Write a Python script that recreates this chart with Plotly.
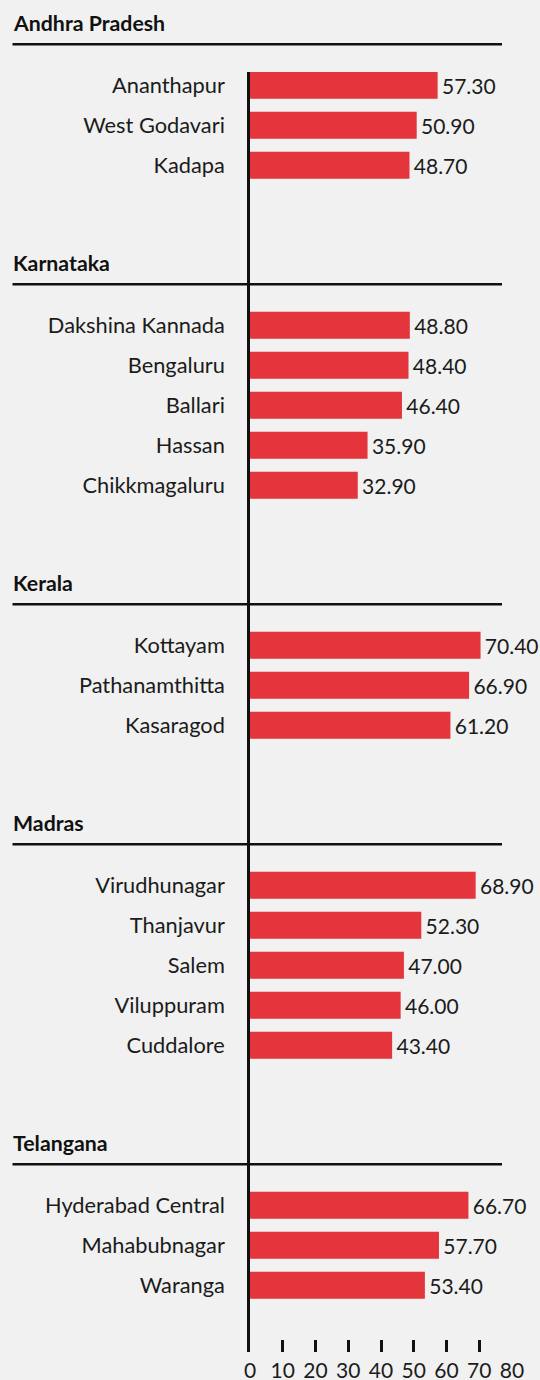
import plotly.graph_objects as go

# ---- data ----
groups = ["Andhra Pradesh", "Karnataka", "Kerala", "Madras", "Telangana"]
ap_names = ["Ananthapur", "West Godavari", "Kadapa"]
ap_vals = [57.30, 50.90, 48.70]
ka_names = ["Dakshina Kannada", "Bengaluru", "Ballari", "Hassan", "Chikkmagaluru"]
ka_vals = [48.80, 48.40, 46.40, 35.90, 32.90]
kl_names = ["Kottayam", "Pathanamthitta", "Kasaragod"]
kl_vals = [70.40, 66.90, 61.20]
md_names = ["Virudhunagar", "Thanjavur", "Salem", "Viluppuram", "Cuddalore"]
md_vals = [68.90, 52.30, 47.00, 46.00, 43.40]
tg_names = ["Hyderabad Central", "Mahabubnagar", "Waranga"]
tg_vals = [66.70, 57.70, 53.40]
x_ticks = [0, 10, 20, 30, 40, 50, 60, 70, 80]

group_names = [ap_names, ka_names, kl_names, md_names, tg_names]
group_vals = [ap_vals, ka_vals, kl_vals, md_vals, tg_vals]

# ---- layout constants ----
W, H = 540, 1380
M_L, M_R, M_T, M_B = 250, 28, 72, 28
GAP_SLOTS = 4
Y_MIN, Y_MAX = -1 / 3, 31 + 2 / 3
FONT = "Lato, 'Open Sans', sans-serif"
BG = "#f0f1f0"
RED = "#e3353b"
INK = "#1b1b1b"

pos, names, vals, group_start = [], [], [], []
s = 0
for nm, vl in zip(group_names, group_vals):
    group_start.append(s)
    for n, v in zip(nm, vl):
        pos.append(s)
        names.append(n)
        vals.append(v)
        s += 1
    s += GAP_SLOTS - 1

plot_w = W - M_L - M_R


def ypaper(slot):
    return 1 - (slot - Y_MIN) / (Y_MAX - Y_MIN)


def xpaper(px):
    return (px - M_L) / plot_w


fig = go.Figure(
    go.Bar(
        x=vals,
        y=pos,
        orientation="h",
        width=0.675,
        marker=dict(color=RED, line=dict(width=0)),
        text=[f"\u200a{v:.2f}" for v in vals],
        textposition="outside",
        textfont=dict(family=FONT, size=21, color=INK),
        cliponaxis=False,
        constraintext="none",
        hoverinfo="skip",
    )
)

shapes = []
annotations = []
for g, st in zip(groups, group_start):
    yl = ypaper(st - 1.025)
    shapes.append(
        dict(
            type="line", xref="paper", yref="paper",
            x0=xpaper(12.5), x1=xpaper(502), y0=yl, y1=yl,
            line=dict(color="#111111", width=2.5),
        )
    )
    annotations.append(
        dict(
            text=f"<b>{g}</b>", xref="paper", yref="paper",
            x=xpaper(11), y=ypaper(st - 1.55), xanchor="left", yanchor="middle",
            showarrow=False, font=dict(family=FONT, size=21.3, color="#111111"),
        )
    )

fig.update_layout(
    width=W, height=H,
    margin=dict(l=M_L, r=M_R, t=M_T, b=M_B, pad=0, autoexpand=False),
    paper_bgcolor=BG, plot_bgcolor=BG,
    showlegend=False,
    shapes=shapes,
    annotations=annotations,
    xaxis=dict(
        range=[0, 80], tickvals=x_ticks, ticktext=[str(t) for t in x_ticks],
        ticks="inside", ticklen=12, tickwidth=2.5, tickcolor="#111111",
        showgrid=False, zeroline=False, showline=False, automargin=False,
        tickfont=dict(family=FONT, size=21, color=INK),
        ticklabelstandoff=4,
    ),
    yaxis=dict(
        range=[Y_MAX, Y_MIN], tickvals=pos, ticktext=names,
        ticks="", showgrid=False, zeroline=False, automargin=False,
        showline=True, linewidth=2.5, linecolor="#111111", layer="above traces",
        tickfont=dict(family=FONT, size=21.8, color=INK),
        ticklabelstandoff=18,
    ),
)

fig.write_html(
    "out.html",
    config={"displayModeBar": False},
    post_script=(
        "document.body.style.margin='0';"
        "document.body.style.padding='0';"
        "document.body.style.background='" + BG + "';"
    ),
)
